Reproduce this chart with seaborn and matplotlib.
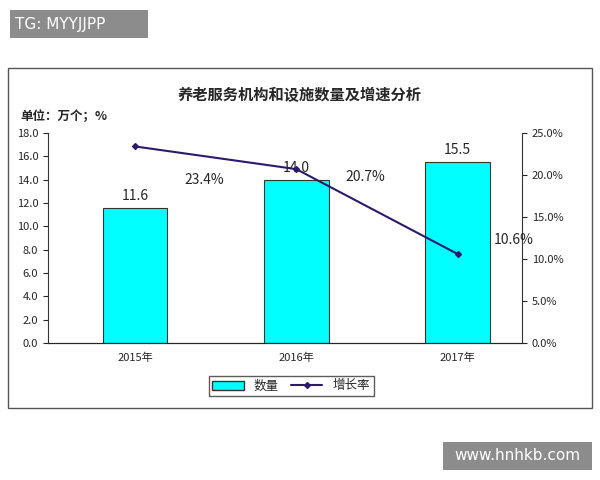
import matplotlib
matplotlib.use("Agg")
import matplotlib.pyplot as plt
import seaborn as sns
import pandas as pd
from matplotlib.patches import Rectangle

sns.set_style("white")
plt.rcParams['font.family'] = ['Noto Sans CJK SC', 'DejaVu Sans']

years = ["2015年", "2016年", "2017年"]
counts = [11.6, 14.0, 15.5]
growth = [23.4, 20.7, 10.6]

fig = plt.figure(figsize=(6, 4.8), dpi=100)
# outer chart frame
fig.patches.append(Rectangle((8/600, 1-408/480), 584/600, 340/480, transform=fig.transFigure,
                             fill=False, edgecolor="#555555", lw=1))
# watermark boxes
fig.patches.append(Rectangle((10/600, 1-38/480), 138/600, 28/480, transform=fig.transFigure,
                             facecolor="#8c8c8c", edgecolor="none"))
fig.text(15/600, 1-24/480, "TG: MYYJJPP", color="white", fontsize=11, va="center", family="DejaVu Sans")
fig.patches.append(Rectangle((443/600, 1-470/480), 149/600, 28/480, transform=fig.transFigure,
                             facecolor="#8c8c8c", edgecolor="none"))
fig.text(517/600, 1-456/480, "www.hnhkb.com", color="white", fontsize=11, va="center", ha="center", family="DejaVu Sans")

fig.text(300/600, 1-95/480, "养老服务机构和设施数量及增速分析", ha="center", va="center", fontsize=11, fontweight="bold")
fig.text(20/600, 1-116/480, "单位：万个；%", ha="left", va="center", fontsize=9, fontweight="bold")

ax = fig.add_axes([48/600, 1-343/480, 474/600, 210/480])
df = pd.DataFrame({"year": years, "count": counts})
sns.barplot(data=df, x="year", y="count", ax=ax, color="#00ffff", edgecolor="#333333",
            linewidth=0.8, width=0.4, saturation=1)
ax.set_xlim(-0.54, 2.40)
ax.set_ylim(0, 18)
ax.set_yticks(range(0, 19, 2))
ax.set_yticklabels([f"{v:.1f}" for v in range(0, 19, 2)], fontsize=8)
ax.set_xlabel(""); ax.set_ylabel("")
ax.tick_params(axis="x", labelsize=8)
for i, v in enumerate(counts):
    ax.text(i, v + 0.4, f"{v:.1f}", ha="center", va="bottom", fontsize=10)
for s in ["top", "right"]:
    ax.spines[s].set_visible(False)
for s in ["left", "bottom"]:
    ax.spines[s].set_color("#333333")

ax2 = ax.twinx()
ax2.plot(range(3), growth, color="#2b1a6b", marker="D", markersize=3, lw=1.5)
ax2.set_ylim(0, 25)
ax2.set_yticks(range(0, 26, 5))
ax2.set_yticklabels([f"{v:.1f}%" for v in range(0, 26, 5)], fontsize=8)
ax2.spines["top"].set_visible(False)
ax2.spines["left"].set_visible(False)
ax2.spines["right"].set_color("#333333")
offs = [(0.43, 19.4), (1.43, 19.8), (2.35, 12.3)]
for (x, y), g in zip(offs, growth):
    ax2.text(x, y, f"{g:.1f}%", ha="center", va="center", fontsize=10)

# legend
from matplotlib.patches import Patch
from matplotlib.lines import Line2D
handles = [Patch(facecolor="#00ffff", edgecolor="#333333", label="数量"),
           Line2D([], [], color="#2b1a6b", marker="D", markersize=3, label="增长率")]
fig.legend(handles=handles, loc="center", bbox_to_anchor=(291/600, 1-386/480), ncol=2,
           fontsize=9, frameon=True, fancybox=False, edgecolor="#333333",
           handlelength=2.5, borderpad=0.3, columnspacing=1.0)
fig.savefig("out.png", dpi=100, facecolor="white")
